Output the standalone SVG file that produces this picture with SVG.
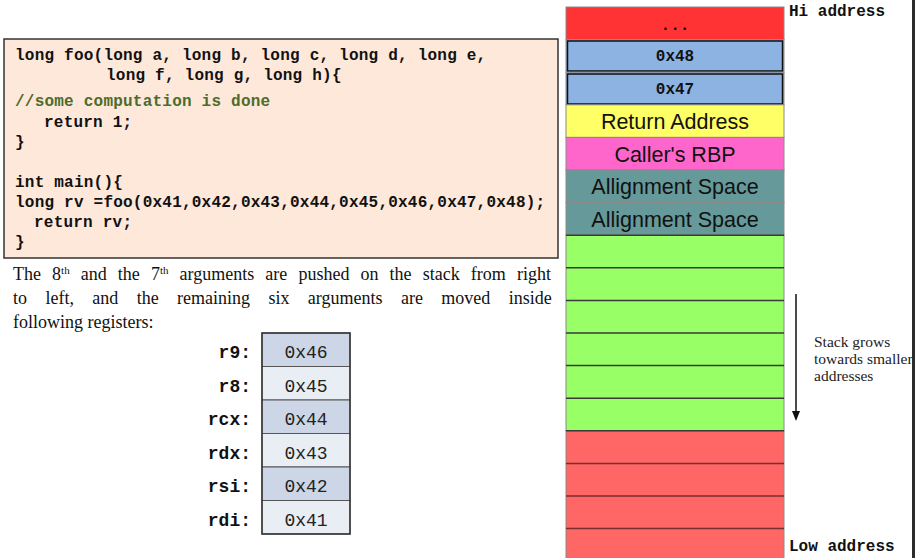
<svg xmlns="http://www.w3.org/2000/svg" width="915" height="558" viewBox="0 0 915 558">
<style>
.code{font-family:"Liberation Mono","Courier New",monospace;font-weight:bold;font-size:16px;letter-spacing:0.22px;fill:#111}
.cmt{fill:#4d6b2b}
.para{font-family:"Liberation Serif","Times New Roman",serif;font-size:18px;fill:#111}
.reglab{font-family:"Liberation Mono",monospace;font-weight:bold;font-size:18px;fill:#111;text-anchor:end}
.regval{font-family:"Liberation Mono",monospace;font-size:18px;fill:#222;text-anchor:middle}
.dark{fill:#cdd6e6;stroke:#555;stroke-width:1}
.light{fill:#e9edf4;stroke:#555;stroke-width:1}
.cell{stroke:#8a8a8a;stroke-width:1}
.sans{font-family:"Liberation Sans",Arial,sans-serif;font-size:21.5px;fill:#111;text-anchor:middle}
.mono{font-family:"Liberation Mono",monospace;font-weight:bold;font-size:16px;fill:#111}
.sep{stroke:#3a3a3a;stroke-width:1.5}
.sepr{stroke:#7a2e2e;stroke-width:1.5}
.note{font-family:"Liberation Serif","Times New Roman",serif;font-size:15.5px;fill:#222}
</style>
<rect width="915" height="558" fill="#fff"/>

<g id="code">
<rect x="4" y="39" width="554" height="219" fill="#fde8da" stroke="#333" stroke-width="1.5"/>
<text class="code" x="15" y="60">long foo(long a, long b, long c, long d, long e,</text>
<text class="code" x="106" y="80">long f, long g, long h){</text>
<text class="code cmt" x="15" y="106">//some computation is done</text>
<text class="code" x="44" y="127">return 1;</text>
<text class="code" x="15" y="147">}</text>
<text class="code" x="15" y="187">int main(){</text>
<text class="code" x="15" y="207">long rv =foo(0x41,0x42,0x43,0x44,0x45,0x46,0x47,0x48);</text>
<text class="code" x="34" y="227">return rv;</text>
<text class="code" x="15" y="247">}</text>
</g>

<g id="paragraph">
<text class="para" x="13" y="280" word-spacing="6.6">The 8<tspan font-size="11" dy="-6">th</tspan><tspan dy="6"> and the 7</tspan><tspan font-size="11" dy="-6">th</tspan><tspan dy="6"> arguments are pushed on the stack from right</tspan></text>
<text class="para" x="13" y="304" word-spacing="13.9">to left, and the remaining six arguments are moved inside</text>
<text class="para" x="13" y="328">following registers:</text>
</g>

<g id="registers">
<g id="reg-r9"><rect class="dark" x="262" y="333" width="88" height="33.5"/><text class="reglab" x="251" y="358">r9:</text><text class="regval" x="306" y="358">0x46</text></g>
<g id="reg-r8"><rect class="light" x="262" y="366.5" width="88" height="33.5"/><text class="reglab" x="251" y="391.5">r8:</text><text class="regval" x="306" y="391.5">0x45</text></g>
<g id="reg-rcx"><rect class="dark" x="262" y="400" width="88" height="33.5"/><text class="reglab" x="251" y="425">rcx:</text><text class="regval" x="306" y="425">0x44</text></g>
<g id="reg-rdx"><rect class="light" x="262" y="433.5" width="88" height="33.5"/><text class="reglab" x="251" y="458.5">rdx:</text><text class="regval" x="306" y="458.5">0x43</text></g>
<g id="reg-rsi"><rect class="dark" x="262" y="467" width="88" height="33.5"/><text class="reglab" x="251" y="492">rsi:</text><text class="regval" x="306" y="492">0x42</text></g>
<g id="reg-rdi"><rect class="light" x="262" y="500.5" width="88" height="33.5"/><text class="reglab" x="251" y="525.5">rdi:</text><text class="regval" x="306" y="525.5">0x41</text></g>
<rect x="262" y="333" width="88" height="201" fill="none" stroke="#333" stroke-width="1.5"/>
</g>

<g id="stack">
<g id="s-top"><rect class="cell" x="566" y="7" width="218" height="32.6" fill="#ff3333"/><text class="mono" x="675" y="30" text-anchor="middle">...</text></g>
<g id="s-0x48"><rect class="cell" x="566" y="39.6" width="218" height="32.6" fill="#8db3e2"/><rect x="567.5" y="41" width="215" height="30" fill="none" stroke="#111" stroke-width="1.5"/><text class="mono" x="675" y="61" text-anchor="middle">0x48</text></g>
<g id="s-0x47"><rect class="cell" x="566" y="72.2" width="218" height="32.6" fill="#8db3e2"/><rect x="567.5" y="74" width="215" height="30" fill="none" stroke="#111" stroke-width="1.5"/><text class="mono" x="675" y="94" text-anchor="middle">0x47</text></g>
<g id="s-ret"><rect class="cell" x="566" y="104.8" width="218" height="32.6" fill="#ffff66"/><text class="sans" x="675" y="129">Return Address</text></g>
<g id="s-rbp"><rect class="cell" x="566" y="137.4" width="218" height="32.6" fill="#ff66cc"/><text class="sans" x="675" y="162">Caller's RBP</text></g>
<g id="s-align1"><rect class="cell" x="566" y="170" width="218" height="32.6" fill="#669999"/><text class="sans" x="675" y="194">Allignment Space</text></g>
<g id="s-align2"><rect class="cell" x="566" y="202.6" width="218" height="32.6" fill="#669999"/><text class="sans" x="675" y="227">Allignment Space</text></g>
<g id="s-green"><rect class="cell" x="566" y="235.2" width="218" height="195.6" fill="#99ff66"/>
<line class="sep" x1="566" y1="235.2" x2="784" y2="235.2"/>
<line class="sep" x1="566" y1="267.8" x2="784" y2="267.8"/>
<line class="sep" x1="566" y1="300.4" x2="784" y2="300.4"/>
<line class="sep" x1="566" y1="333" x2="784" y2="333"/>
<line class="sep" x1="566" y1="365.6" x2="784" y2="365.6"/>
<line class="sep" x1="566" y1="398.2" x2="784" y2="398.2"/>
</g>
<g id="s-red"><rect class="cell" x="566" y="430.8" width="218" height="140" fill="#ff6666"/>
<line class="sep" x1="566" y1="430.8" x2="784" y2="430.8"/>
<line class="sepr" x1="566" y1="463.4" x2="784" y2="463.4"/>
<line class="sepr" x1="566" y1="496" x2="784" y2="496"/>
<line class="sepr" x1="566" y1="528.6" x2="784" y2="528.6"/>
</g>
</g>

<g id="labels">
<text class="mono" x="789" y="16">Hi address</text>
<text class="mono" x="789" y="551">Low address</text>
<text class="note" x="814" y="347">Stack grows</text>
<text class="note" x="814" y="364">towards smaller</text>
<text class="note" x="814" y="381">addresses</text>
</g>

<g id="connectors">
<line x1="796" y1="294" x2="796" y2="419" stroke="#111" stroke-width="1.5"/>
<path d="M792,411 L800,411 L796,421 Z" fill="#111"/>
</g>

<rect x="912" y="0" width="3" height="558" fill="#2b2b2b"/>
</svg>
